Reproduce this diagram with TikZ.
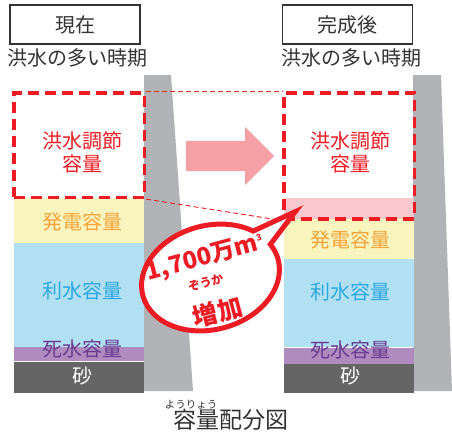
\documentclass[tikz,border=0pt]{standalone}
\usepackage{fontspec}
\setmainfont{Noto Sans CJK JP}
\usepackage{tikz}
\usetikzlibrary{positioning,shapes.arrows,shapes.callouts,fit,calc}
\definecolor{floodRed}{HTML}{ED1C24}
\definecolor{gainPink}{HTML}{F9C8CC}
\definecolor{arrowPink}{HTML}{F4A0A4}
\definecolor{powerYellow}{HTML}{FAF5BE}
\definecolor{powerText}{HTML}{F5A33A}
\definecolor{useBlue}{HTML}{B1E0F3}
\definecolor{useText}{HTML}{2EA7E0}
\definecolor{deadPurple}{HTML}{B08BC0}
\definecolor{deadText}{HTML}{6A3B8E}
\definecolor{sandGray}{HTML}{656565}
\definecolor{damGray}{HTML}{B2B3B7}
\definecolor{darkText}{HTML}{333333}

\begin{document}
\begin{tikzpicture}[x=1pt,y=-1pt,
      lbl/.style={font=\fontsize{20}{23}\selectfont},
      band/.style={inner sep=0,minimum width=130pt},
      dashframe/.style={draw=floodRed,line width=3.5pt,dash pattern=on 11pt off 6pt,inner sep=0},
      guide/.style={draw=floodRed,line width=0.9pt,dash pattern=on 5pt off 3pt},
      titlebox/.style={draw=darkText,line width=1.2pt,minimum width=130pt,minimum height=39pt,inner sep=0,lbl,text=darkText},
      calltxt/.style={text=floodRed,font=\bfseries\fontsize{24}{26}\selectfont,inner sep=0}
    ]
    \useasboundingbox (0,0) rectangle (452,436);

    \fill[damGray] (144,75) -- (171,75) -- (193,391) -- (144,391) -- cycle;
    \fill[damGray] (413,75) -- (441,75) -- (452,391) -- (413,391) -- cycle;

    \node[titlebox] (nowBox) at (75,24.5) {現在};
    \node[titlebox] (afterBox) at (347.5,24.5) {完成後};
    \node[lbl,text=darkText] (seasonL) at (77.5,58) {洪水の多い時期};
    \node[lbl,text=darkText] (seasonR) at (351,58) {洪水の多い時期};

    \node[band,minimum height=104pt,anchor=north west] (floodL) at (14,93) {};
    \node[band,fill=powerYellow,minimum height=45pt,below=0pt of floodL] (powL) {};
    \node[band,fill=useBlue,minimum height=104pt,below=0pt of powL] (useL) {};
    \node[band,fill=deadPurple,minimum height=14pt,below=0pt of useL] (deadL) {};
    \node[band,fill=sandGray,minimum height=31pt,below=0pt of deadL] (sandL) {};

    \node[band,minimum height=104pt,anchor=north west] (floodR) at (284,93) {};
    \node[band,fill=gainPink,minimum height=21pt,below=0pt of floodR] (gainR) {};
    \node[band,fill=powerYellow,minimum height=40pt,below=0pt of gainR] (powR) {};
    \node[band,fill=useBlue,minimum height=88pt,below=0pt of powR] (useR) {};
    \node[band,fill=deadPurple,minimum height=16pt,below=0pt of useR] (deadR) {};
    \node[band,fill=sandGray,minimum height=29pt,below=0pt of deadR] (sandR) {};

    \node[dashframe,fit=(floodL)] (frameL) {};
    \node[dashframe,fit=(floodR)(gainR)] (frameR) {};

    \node[lbl,text=floodRed,align=center] (floodTxtL) at (82,152) {洪水調節\\容量};
    \node[lbl,text=powerText] (powTxtL) at (82,222) {発電容量};
    \node[lbl,text=useText] (useTxtL) at (82,290.5) {利水容量};
    \node[lbl,text=deadText] (deadTxtL) at (82,349) {死水容量};
    \node[lbl,text=white] (sandTxtL) at (82,376) {砂};

    \node[lbl,text=floodRed,align=center] (floodTxtR) at (350,152) {洪水調節\\容量};
    \node[lbl,text=powerText] (powTxtR) at (350,239.5) {発電容量};
    \node[lbl,text=useText] (useTxtR) at (350,292) {利水容量};
    \node[lbl,text=deadText] (deadTxtR) at (350,349.5) {死水容量};
    \node[lbl,text=white] (sandTxtR) at (350,376) {砂};

    \draw[guide] (frameL.north east) -- (frameR.north west);
    \draw[guide] (frameL.south east) -- (frameR.south west);

    \node[single arrow,fill=arrowPink,minimum height=88pt,single arrow head extend=14pt,
      inner sep=0,anchor=tail] (shiftArrow) at (186,156) {\rule{0pt}{30pt}};

    \node[ellipse callout,draw=floodRed,fill=white,line width=5pt,minimum width=140pt,minimum height=104pt,
      inner sep=0,rotate=15,callout relative pointer={(38,-16)},callout pointer arc=22] (gain) at (210.5,277.5) {};
    \begin{scope}[shift={(gain.center)},rotate=15,transform shape]
      \node[calltxt] (amount) at (0,-20) {1,700万m\textsuperscript{\fontsize{9}{9}\selectfont 3}};
      \node[calltxt,font=\bfseries\fontsize{12}{13}\selectfont] (gainRuby) at (-6,4) {ぞうか};
      \node[calltxt,font=\bfseries\fontsize{25}{27}\selectfont] (gainWord) at (-2,35) {増加};
    \end{scope}

    \node[font=\fontsize{10.5}{12}\selectfont,text=darkText] (capRuby) at (191,405) {ようりょう};
    \node[font=\fontsize{23}{26}\selectfont,text=darkText] (caption) at (231,420) {容量配分図};
  \end{tikzpicture}
\end{document}
